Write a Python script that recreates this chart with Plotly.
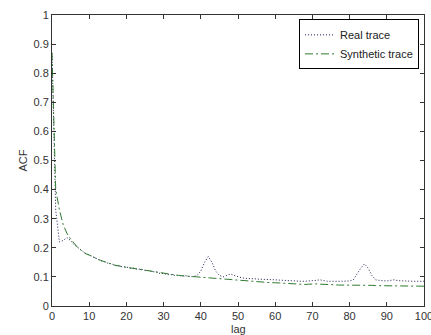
import plotly.graph_objects as go

lags = list(range(0, 101))

synthetic = [
    0.87, 0.40, 0.33, 0.28, 0.25, 0.23, 0.215, 0.20, 0.19, 0.18,
    0.175, 0.17, 0.163, 0.157, 0.152, 0.148, 0.144, 0.14, 0.137, 0.135,
    0.133, 0.131, 0.129, 0.127, 0.125, 0.123, 0.121, 0.119, 0.116, 0.113,
    0.111, 0.109, 0.107, 0.106, 0.105, 0.104, 0.103, 0.102, 0.100, 0.098,
    0.097, 0.096, 0.095, 0.095, 0.094, 0.093, 0.092, 0.091, 0.090, 0.089,
    0.088, 0.087, 0.086, 0.085, 0.084, 0.083, 0.082, 0.081, 0.081, 0.080,
    0.080, 0.079, 0.078, 0.077, 0.076, 0.076, 0.075, 0.075, 0.074, 0.075,
    0.076, 0.076, 0.075, 0.075, 0.074, 0.073, 0.073, 0.072, 0.072, 0.071,
    0.071, 0.072, 0.073, 0.072, 0.072, 0.071, 0.071, 0.070, 0.070, 0.070,
    0.070, 0.069, 0.069, 0.069, 0.069, 0.069, 0.068, 0.068, 0.068, 0.068,
    0.068,
]

real = [
    0.87, 0.33, 0.22, 0.225, 0.235, 0.225, 0.21, 0.20, 0.19, 0.181,
    0.176, 0.169, 0.164, 0.156, 0.153, 0.147, 0.145, 0.139, 0.138, 0.134,
    0.134, 0.130, 0.130, 0.126, 0.127, 0.122, 0.122, 0.118, 0.117, 0.112,
    0.112, 0.108, 0.108, 0.105, 0.106, 0.103, 0.104, 0.101, 0.101, 0.105,
    0.120, 0.150, 0.170, 0.150, 0.120, 0.105, 0.100, 0.105, 0.110, 0.105,
    0.100, 0.097, 0.095, 0.095, 0.094, 0.093, 0.092, 0.092, 0.091, 0.090,
    0.090, 0.089, 0.088, 0.087, 0.086, 0.085, 0.086, 0.085, 0.085, 0.086,
    0.085, 0.088, 0.090, 0.087, 0.085, 0.085, 0.086, 0.085, 0.085, 0.085,
    0.086, 0.090, 0.110, 0.130, 0.145, 0.130, 0.105, 0.090, 0.088, 0.087,
    0.086, 0.088, 0.090, 0.087, 0.086, 0.085, 0.085, 0.085, 0.085, 0.085,
    0.085,
]

x_ticks = [0, 10, 20, 30, 40, 50, 60, 70, 80, 90, 100]
y_ticks = [0, 0.1, 0.2, 0.3, 0.4, 0.5, 0.6, 0.7, 0.8, 0.9, 1]
y_tick_labels = ["0", "0.1", "0.2", "0.3", "0.4", "0.5", "0.6", "0.7", "0.8", "0.9", "1"]

FONT = "Liberation Sans, Arial, sans-serif"

fig = go.Figure()
fig.add_trace(go.Scatter(
    x=lags, y=real, mode="lines", name="Real trace",
    line=dict(color="#1c1c50", width=1, dash="1px,2px"),
))
fig.add_trace(go.Scatter(
    x=lags, y=synthetic, mode="lines", name="Synthetic trace",
    line=dict(color="#2f7a2f", width=1, dash="8px,3px,2px,3px"),
))

fig.update_layout(
    width=431, height=335,
    margin=dict(l=52, r=7, t=15, b=29, autoexpand=False),
    paper_bgcolor="white", plot_bgcolor="white",
    font=dict(family=FONT, size=11, color="#333333"),
    showlegend=True,
    legend=dict(
        x=0.9866, y=0.985, xanchor="right", yanchor="top",
        bgcolor="white", bordercolor="black", borderwidth=1,
        font=dict(family=FONT, size=11, color="#222222"),
        itemwidth=30, tracegroupgap=0,
    ),
    xaxis=dict(
        range=[0, 100], tickvals=x_ticks, ticktext=[str(v) for v in x_ticks],
        ticks="inside", ticklen=4, tickcolor="#333333",
        showline=True, linecolor="#333333", linewidth=1, mirror="ticks",
        showgrid=False, zeroline=False, automargin=False,
        ticklabeloverflow="allow",
    ),
    yaxis=dict(
        range=[0, 1], tickvals=y_ticks, ticktext=y_tick_labels,
        ticks="inside", ticklen=4, tickcolor="#333333",
        showline=True, linecolor="#333333", linewidth=1, mirror="ticks",
        showgrid=False, zeroline=False, automargin=False,
    ),
    annotations=[
        dict(text="lag", xref="paper", yref="paper", x=0.5, y=0,
             xanchor="center", yanchor="top", yshift=-15, showarrow=False,
             font=dict(family=FONT, size=11, color="#333333")),
        dict(text="ACF", xref="paper", yref="paper", x=0, y=0.5,
             xanchor="center", yanchor="middle", xshift=-30, textangle=-90,
             showarrow=False, font=dict(family=FONT, size=11, color="#333333")),
    ],
)

fig.write_html(
    "out.html",
    config={"displayModeBar": False},
    post_script="document.body.style.margin='0';document.body.style.overflow='hidden';",
)
